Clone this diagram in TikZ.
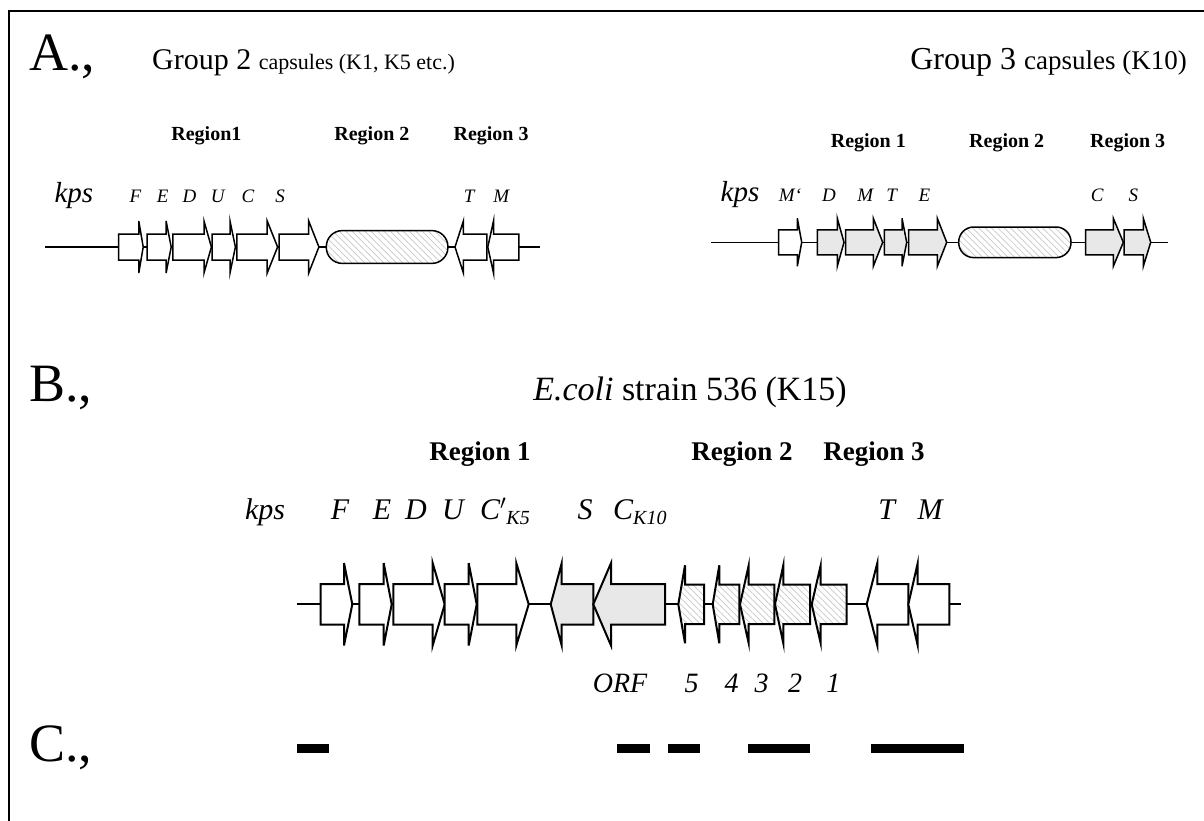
\documentclass[tikz,border=0pt]{standalone}
\usepackage{fontspec}
\setmainfont{Liberation Serif}
\usepackage{tikz}
\usetikzlibrary{patterns.meta}
\definecolor{genegray}{RGB}{232,232,232}
\definecolor{hatchgray}{RGB}{200,200,200}
\newcommand{\fs}[1]{\fontsize{#1}{#1}\selectfont}
% gene arrows: [style]{start}{head base}{tip}, row centre at y=0
\newcommand{\genebody}{13}
\newcommand{\genehead}{26}
\newcommand{\fwdgene}[4][gene]{%
  \draw[#1] (#2,-\genebody) -- (#3,-\genebody) -- (#3,-\genehead) -- (#4,0)
    -- (#3,\genehead) -- (#3,\genebody) -- (#2,\genebody) -- cycle;}
\newcommand{\revgene}[4][gene]{%
  \draw[#1] (#2,0) -- (#3,-\genehead) -- (#3,-\genebody) -- (#4,-\genebody)
    -- (#4,\genebody) -- (#3,\genebody) -- (#3,\genehead) -- cycle;}
\tikzset{
  gene/.style={draw=black, fill=white, line width=1.5pt},
  greygene/.style={gene, fill=genegray},
  hatchgene/.style={draw=black, line width=1.5pt, preaction={fill=white},
    pattern={Lines[angle=-45,distance=4.5pt,line width=0.7pt]}, pattern color=hatchgray},
  backbone/.style={line width=1.5pt},
  frame/.style={line width=2pt},
  lab/.style={inner sep=0pt, anchor=base},
  seclab/.style={lab, anchor=base west, font=\fs{54}},
  regA/.style={lab, font=\fs{20}\bfseries},
  regB/.style={lab, font=\fs{27}\bfseries},
  genA/.style={lab, font=\fs{19}\itshape},
  kpsA/.style={lab, font=\fs{29}\itshape},
  genB/.style={lab, font=\fs{30}\itshape},
  orfB/.style={lab, font=\fs{28}\itshape},
  clone/.style={fill=black}
}
\begin{document}
\begin{tikzpicture}[x=1pt, y=-1pt]
  \useasboundingbox (0,0) rectangle (1204,821);
  \draw[frame] (9,821) -- (9,11) -- (1204,11);

  % A., group 2 and group 3 clusters
  \node[seclab] (secA) at (29,71) {A.,};
  \node[lab, anchor=base west] (titleA2) at (152,70) {\fs{30}Group 2 \fs{22}capsules (K1, K5 etc.)};
  \node[lab, anchor=base east] (titleA3) at (1187,70) {\fs{32}Group 3 \fs{27}capsules (K10)};

  \node[regA] (rA1) at (206.4,141) {Region1};
  \node[regA] (rA2) at (371.9,141) {Region 2};
  \node[regA] (rA3) at (491.1,141) {Region 3};
  \node[kpsA] (kpsA2) at (73.9,203) {kps};
  \foreach \x/\g in {135.4/F, 162.8/E, 189.5/D, 217.8/U, 247.9/C, 280/S, 469.2/T, 501.3/M}
    \node[genA] (gA\g) at (\x,203) {\g};

  \begin{scope}[shift={(0,247)}]
    \renewcommand{\genebody}{13}\renewcommand{\genehead}{26}
    \draw[backbone] (45.2,0) -- (539.5,0);
    \fwdgene{118.5}{138.8}{143.2}
    \fwdgene{147.2}{166.1}{171.2}
    \fwdgene{172.9}{204}{211.4}
    \fwdgene{212.1}{230}{235.4}
    \fwdgene{236.8}{267.2}{277.6}
    \fwdgene{279}{308.7}{318.9}
    \draw[hatchgene, rounded corners=16pt] (326.3,-16.4) rectangle (447.9,16.4);
    \revgene{455}{463.4}{486.8}
    \revgene{487.8}{493.5}{518.9}
  \end{scope}

  \node[regA] (rB1) at (868.3,148) {Region 1};
  \node[regA] (rB2) at (1006.7,148) {Region 2};
  \node[regA] (rB3) at (1127.7,148) {Region 3};
  \node[kpsA] (kpsA3) at (740,202) {kps};
  \foreach \x/\g/\n in {790/M‘/Mp, 829/D/D, 865.3/M/M, 891.7/T/T, 924.3/E/E, 1097.3/C/C, 1133.3/S/S}
    \node[genA] (gB\n) at (\x,202) {\g};

  \begin{scope}[shift={(0,242.3)}]
    \renewcommand{\genebody}{12.5}\renewcommand{\genehead}{24}
    \draw[backbone] (711,0) -- (1167.7,0);
    \fwdgene{778.7}{797.3}{801.7}
    \fwdgene[greygene]{817.3}{837.3}{844}
    \fwdgene[greygene]{845.7}{873.3}{882.7}
    \fwdgene[greygene]{884.3}{902}{906.7}
    \fwdgene[greygene]{908.7}{937.3}{946.7}
    \draw[hatchgene, rounded corners=15pt] (958.7,-15.3) rectangle (1071,15.3);
    \fwdgene[greygene]{1085.7}{1113.3}{1123.3}
    \fwdgene[greygene]{1124}{1143.3}{1150.7}
  \end{scope}

  % B., strain 536
  \node[seclab] (secB) at (29,401) {B.,};
  \node[lab] (titleB) at (690,400) {\fs{34}\textit{E.coli} strain 536 (K15)};

  \node[regB] (rC1) at (480,460) {Region 1};
  \node[regB] (rC2) at (742,460) {Region 2};
  \node[regB] (rC3) at (874,460) {Region 3};
  \node[genB] (kpsB) at (265,519) {kps};
  \foreach \x/\g in {340/F, 382/E, 416/D, 453/U, 585/S, 886.7/T, 930/M}
    \node[genB] (gC\g) at (\x,519) {\g};
  \node[genB, anchor=base west] (gCc5) at (480,519) {C$'$\raisebox{-5pt}{\fs{20}K5}};
  \node[genB, anchor=base west] (gCc10) at (613,519) {C\raisebox{-5pt}{\fs{20}K10}};

  \begin{scope}[shift={(0,604.3)}]
    \renewcommand{\genebody}{20.2}\renewcommand{\genehead}{41.2}
    \tikzset{gene/.append style={line width=2pt}, hatchgene/.append style={line width=2pt}}
    \draw[backbone, line width=2pt] (296.7,0) -- (961,0);
    \fwdgene{320.7}{344}{352.3}
    \fwdgene{359.3}{383.7}{391.7}
    \fwdgene{393.3}{432.7}{444.7}
    \fwdgene{444.7}{468.7}{476.7}
    \fwdgene{477.3}{516.3}{528.7}
    \revgene[greygene]{550.7}{561.7}{593.3}
    \revgene[greygene]{593.3}{611}{665}
    \renewcommand{\genebody}{19.8}\renewcommand{\genehead}{39}
    \revgene[hatchgene]{678.3}{685}{704}
    \revgene[hatchgene]{712.7}{719.3}{739.3}
    \revgene[hatchgene]{740}{748.7}{774.3}
    \revgene[hatchgene]{775}{783.3}{810}
    \revgene[hatchgene]{811.7}{820.7}{846.7}
    \renewcommand{\genebody}{20.2}\renewcommand{\genehead}{41.2}
    \revgene{866.7}{877.3}{908.3}
    \revgene{908.3}{917.7}{949.3}
  \end{scope}

  \node[orfB] (orf) at (620,692) {ORF};
  \foreach \x/\n in {691.7/5, 731.7/4, 761.7/3, 795/2, 833.3/1}
    \node[orfB] (orf\n) at (\x,692) {\n};

  % C., probes
  \node[seclab] (secC) at (29,761) {C.,};
  \foreach \a/\b [count=\i] in {297/329, 617/650, 668/700, 748/810, 871/964}
    \fill[clone] (\a,744) rectangle (\b,753);
\end{tikzpicture}
\end{document}
